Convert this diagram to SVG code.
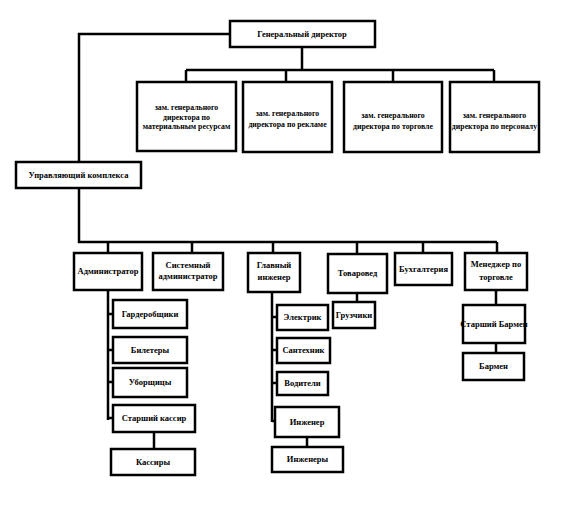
<svg xmlns="http://www.w3.org/2000/svg" width="570" height="532" viewBox="0 0 570 532">
<style>
.b{fill:#fff;stroke:#000;stroke-width:2.5}
.t{font-family:"Liberation Serif","DejaVu Serif",serif;font-weight:bold;font-size:8.5px;fill:#000;text-anchor:middle}
.s{font-size:7.8px}
.l{fill:none;stroke:#000;stroke-width:2.5}
</style>
<rect width="570" height="532" fill="#fff"/>
<g id="connectors">
<path class="l" d="M230,34 H79 V162"/>
<path class="l" d="M302,47 V70 M186,70 H494 M186,70 V82 M286,70 V82 M393,70 V82 M494,70 V82"/>
<path class="l" d="M79,188 V242 H497 M108,242 V253 M192,242 V253 M273,242 V253 M357,242 V254 M423,242 V253 M497,242 V253"/>
<path class="l" d="M108,290 V420 M108,314 H113 M108,350 H113 M108,382 H113 M108,418 H113 M154,432 V449"/>
<path class="l" d="M272,292 V422 M272,317 H277 M272,350 H277 M272,383 H277 M272,421 H275 M307,437 V447"/>
<path class="l" d="M357,293 V302"/>
<path class="l" d="M496,290 V305 M496,343 V353"/>
</g>
<g id="gen"><rect class="b" x="230" y="21" width="145" height="26"/><text class="t" x="302" y="37">Генеральный директор</text></g>
<g id="dep1"><rect class="b" x="137" y="82" width="99" height="69"/><text class="t s" x="186.5" y="110">зам. генерального</text><text class="t s" x="186.5" y="119.5">директора по</text><text class="t s" x="186.5" y="129">материальным ресурсам</text></g>
<g id="dep2"><rect class="b" x="243" y="82" width="89" height="70"/><text class="t s" x="287.5" y="116">зам. генерального</text><text class="t s" x="287.5" y="127">директора по рекламе</text></g>
<g id="dep3"><rect class="b" x="344" y="82" width="98" height="70"/><text class="t s" x="393" y="118">зам. генерального</text><text class="t s" x="393" y="129">директора по торговле</text></g>
<g id="dep4"><rect class="b" x="450" y="82" width="89" height="70"/><text class="t s" x="494.5" y="118">зам. генерального</text><text class="t s" x="494.5" y="129">директора по персоналу</text></g>
<g id="upr"><rect class="b" x="16" y="162" width="125" height="26"/><text class="t" x="78.5" y="178">Управляющий комплекса</text></g>
<g id="adm"><rect class="b" x="74" y="253" width="68" height="37"/><text class="t" x="108" y="274">Администратор</text></g>
<g id="sysadm"><rect class="b" x="153" y="253" width="70" height="37"/><text class="t" x="188" y="268">Системный</text><text class="t" x="188" y="279">администратор</text></g>
<g id="glav"><rect class="b" x="248" y="253" width="52" height="39"/><text class="t" x="274" y="268">Главный</text><text class="t" x="274" y="280">инженер</text></g>
<g id="tov"><rect class="b" x="328" y="254" width="59" height="39"/><text class="t" x="357.5" y="276">Товаровед</text></g>
<g id="buh"><rect class="b" x="395" y="253" width="57" height="32"/><text class="t" x="423.5" y="271.5">Бухгалтерия</text></g>
<g id="men"><rect class="b" x="465" y="253" width="62" height="37"/><text class="t" x="496" y="267">Менеджер по</text><text class="t" x="496" y="280">торговле</text></g>
<g id="gard"><rect class="b" x="113" y="300" width="74" height="28"/><text class="t" x="150" y="317">Гардеробщики</text></g>
<g id="bil"><rect class="b" x="113" y="337" width="74" height="26"/><text class="t" x="150" y="353">Билетеры</text></g>
<g id="ubor"><rect class="b" x="113" y="368" width="74" height="29"/><text class="t" x="150" y="385">Уборщицы</text></g>
<g id="stkas"><rect class="b" x="113" y="405" width="82" height="27"/><text class="t" x="154" y="421">Старший кассир</text></g>
<g id="kas"><rect class="b" x="111" y="449" width="84" height="26"/><text class="t" x="153" y="465">Кассиры</text></g>
<g id="el"><rect class="b" x="277" y="305" width="51" height="25"/><text class="t" x="302.5" y="320">Электрик</text></g>
<g id="san"><rect class="b" x="277" y="338" width="53" height="25"/><text class="t" x="303.5" y="353">Сантехник</text></g>
<g id="vod"><rect class="b" x="277" y="372" width="51" height="23"/><text class="t" x="302.5" y="386">Водители</text></g>
<g id="inzh"><rect class="b" x="275" y="407" width="64" height="30"/><text class="t" x="307" y="425">Инженер</text></g>
<g id="inzh2"><rect class="b" x="272" y="447" width="71" height="25"/><text class="t" x="307.5" y="462">Инженеры</text></g>
<g id="gruz"><rect class="b" x="333" y="302" width="42" height="26"/><text class="t" x="354" y="318">Грузчики</text></g>
<g id="stbar"><rect class="b" x="463" y="305" width="62" height="38"/><text class="t" x="494" y="327">Старший Бармен</text></g>
<g id="bar"><rect class="b" x="463" y="353" width="61" height="27"/><text class="t" x="493.5" y="369">Бармен</text></g>
</svg>
